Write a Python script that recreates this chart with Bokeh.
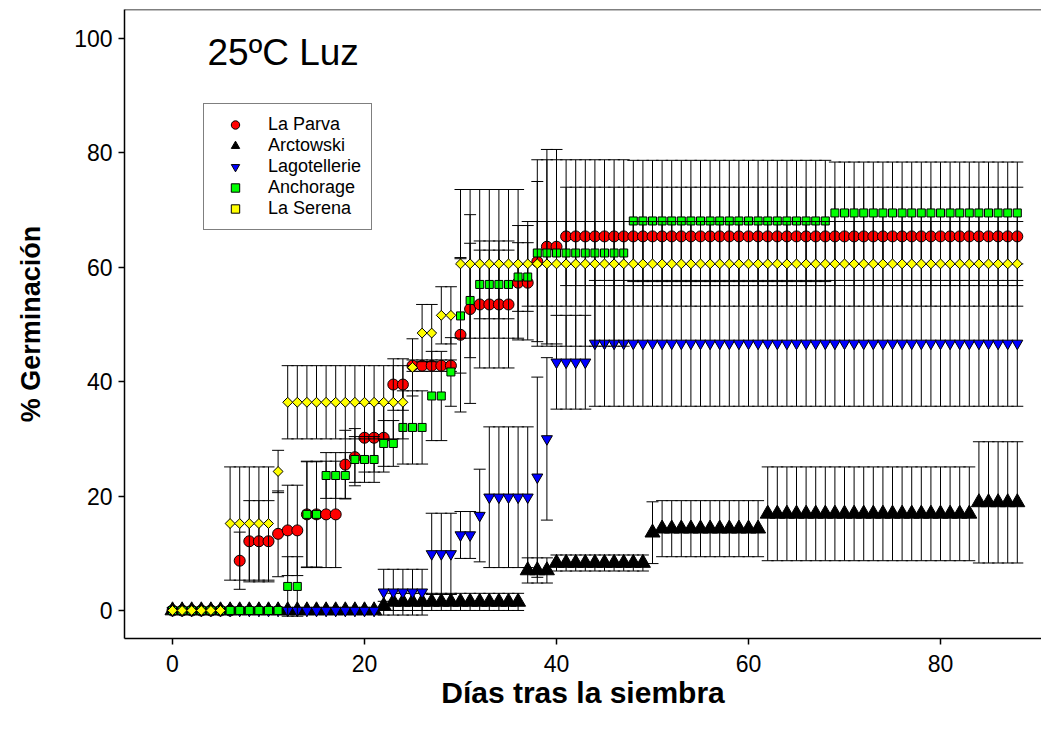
import math
from bokeh.plotting import figure
from bokeh.models import Range1d, Span, Label, Legend, LegendItem, FixedTicker
from bokeh.embed import file_html
from bokeh.resources import INLINE

# ---------------- data ----------------
days = list(range(0, 89))

series_names = ["La Parva", "Arctowski", "Lagotellerie", "Anchorage", "La Serena"]

la_parva = ([0.0]*7 + [8.7] + [12.1]*3 + [13.4] + [14.0]*2 + [16.8]*4 + [25.5, 26.8] + [30.2]*3
            + [39.5]*2 + [42.8]*5 + [48.2, 52.7] + [53.5]*4 + [57.3]*2 + [61.0] + [63.6]*2
            + [65.4]*48)
la_parva_err = ([0.0]*7 + [5.0] + [7.1]*3 + [7.5] + [7.9]*2 + [9.3]*4 + [6.0, 5.0] + [6.0]*3
                + [4.5]*2 + [1.0]*5 + [13.5, 16.5] + [11.1]*4 + [10.0]*2 + [14.0] + [17.0]*2
                + [8.6]*48)

arctowski = ([0.0]*22 + [0.8] + [1.5]*14 + [7.0]*3 + [8.3]*10 + [13.6] + [14.3]*11
             + [16.9]*22 + [18.9]*5)
arctowski_err = ([0.0]*22 + [0.8] + [1.5]*14 + [2.2]*3 + [1.4]*10 + [5.4] + [4.9]*11
                 + [8.2]*22 + [10.6]*5)

lagotellerie = ([0.0]*22 + [3.2]*5 + [9.9]*3 + [13.2]*2 + [16.6] + [19.8]*5 + [23.3, 30.0]
                + [43.4]*4 + [46.7]*45)
lagotellerie_err = ([0.0]*22 + [4.0]*5 + [7.1]*3 + [4.1]*2 + [8.1] + [12.3]*5 + [17.5, 14.2]
                    + [8.2]*4 + [11.0]*45)

anchorage = ([0.0]*12 + [4.2]*2 + [16.8]*2 + [23.6]*3 + [26.4]*3 + [29.2]*2 + [32.0]*3
             + [37.5]*2 + [41.7, 51.5, 54.2] + [57.0]*4 + [58.3]*2 + [62.5]*10 + [68.1]*21
             + [69.5]*20)
anchorage_err = ([0.0]*12 + [5.2]*2 + [9.2]*2 + [4.0]*3 + [4.0]*3 + [4.0]*2 + [6.4]*3
                 + [7.8]*2 + [6.0, 10.0, 10.0] + [6.0]*4 + [6.0]*2 + [16.3]*10 + [10.6]*21
                 + [8.9]*20)

la_serena = ([0.0]*6 + [15.2]*5 + [24.3] + [36.4]*13 + [42.5] + [48.5]*2 + [51.6]*2 + [60.6]*59)
la_serena_err = ([0.0]*6 + [9.9]*5 + [3.7] + [6.4]*13 + [5.0] + [5.0]*2 + [5.0]*2 + [13.0]*7
                 + [7.4]*52)

x_ticks = [0, 20, 40, 60, 80]
y_ticks = [0, 20, 40, 60, 80, 100]

# ---------------- figure ----------------
FONT = "Liberation Sans"
p = figure(width=1041, height=717,
           x_range=Range1d(-5.0, 90.52), y_range=Range1d(-4.9, 105.07),
           output_backend="svg", toolbar_location=None,
           min_border_left=124, min_border_right=0, min_border_top=9, min_border_bottom=79)
p.outline_line_color = None
p.grid.visible = False
p.background_fill_color = "white"
p.border_fill_color = "white"

for ax in (p.xaxis[0], p.yaxis[0]):
    ax.axis_line_width = 1.5
    ax.axis_line_color = "black"
    ax.major_tick_line_width = 1.5
    ax.major_tick_line_color = "black"
    ax.major_tick_out = 6
    ax.major_tick_in = 0
    ax.minor_tick_line_color = None
    ax.major_label_text_font = FONT
    ax.major_label_text_font_size = "23px"
    ax.major_label_text_color = "black"
    ax.axis_label_text_font = FONT
    ax.axis_label_text_font_style = "bold"
    ax.axis_label_text_color = "black"

p.xaxis.ticker = FixedTicker(ticks=x_ticks)
p.yaxis.ticker = FixedTicker(ticks=y_ticks)
p.xaxis.major_label_standoff = 10
p.xaxis.axis_label = "Días tras la siembra"
p.xaxis.axis_label_text_font_size = "30px"
p.xaxis.axis_label_standoff = 1
p.yaxis.major_label_standoff = 6
p.yaxis.axis_label = "% Germinación"
p.yaxis.axis_label_text_font_size = "27px"
p.yaxis.axis_label_standoff = 25

p.add_layout(Span(location=105.07, dimension="width", line_color="black", line_width=1.5))


def add_series(vals, errs, marker, color, size, angle=0.0):
    xs = [d for d, e in zip(days, errs) if e > 0]
    lo = [v - e for v, e in zip(vals, errs) if e > 0]
    hi = [v + e for v, e in zip(vals, errs) if e > 0]
    p.segment(xs, lo, xs, hi, line_color="black", line_width=1)
    p.scatter(xs, hi, marker="dash", size=12, line_color="black", line_width=1)
    p.scatter(xs, lo, marker="dash", size=12, line_color="black", line_width=1)
    return p.scatter(days, vals, marker=marker, size=size, angle=angle,
                     fill_color=color, line_color="black", line_width=1)


r1 = add_series(la_parva, la_parva_err, "circle", "#ff0000", 11)
r2 = add_series(arctowski, arctowski_err, "triangle", "#000000", 15)
r3 = add_series(lagotellerie, lagotellerie_err, "inverted_triangle", "#0000ff", 11)
r4 = add_series(anchorage, anchorage_err, "square", "#00ff00", 8)
r5 = add_series(la_serena, la_serena_err, "square", "#ffff00", 7, angle=math.pi / 4)

legend = Legend(items=[LegendItem(label=n, renderers=[r]) for n, r in
                       zip(series_names, [r1, r2, r3, r4, r5])],
                location=(79, 408), orientation="vertical")
legend.border_line_color = "black"
legend.border_line_width = 1
legend.background_fill_color = "white"
legend.background_fill_alpha = 1
legend.label_text_font = FONT
legend.label_text_font_size = "18px"
legend.label_text_color = "black"
legend.padding = 10
legend.margin = 0
legend.spacing = 0
legend.glyph_width = 42
legend.glyph_height = 21
legend.label_height = 21
legend.label_standoff = 12
p.add_layout(legend)

p.add_layout(Label(x=3.65, y=97.5, text="25ºC Luz", text_font=FONT,
                   text_font_size="37px", text_baseline="middle", text_align="left",
                   text_color="black"))

open("out.html", "w").write(file_html(p, INLINE))
